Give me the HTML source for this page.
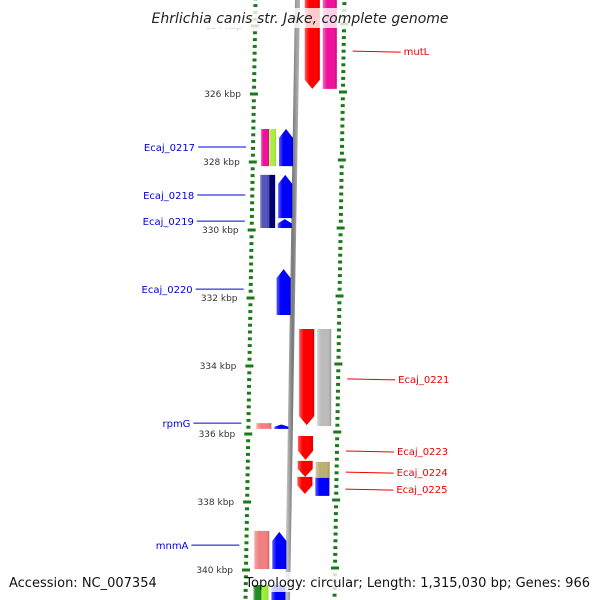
<!DOCTYPE html>
<html><head><meta charset="utf-8"><style>
html,body{margin:0;padding:0;background:#fff}
svg{display:block;font-family:"DejaVu Sans","Liberation Sans",sans-serif}
</style></head><body>
<svg id="map" width="600" height="600" viewBox="0 0 600 600" xmlns="http://www.w3.org/2000/svg">
<defs>
<linearGradient id="bb" x1="0" x2="1"><stop offset="0" stop-color="#bbb"/><stop offset="0.5" stop-color="#777"/><stop offset="1" stop-color="#aaa"/></linearGradient>
<linearGradient id="shine" x1="0" x2="1"><stop offset="0" stop-color="#fff" stop-opacity="0.35"/><stop offset="0.3" stop-color="#fff" stop-opacity="0"/><stop offset="0.8" stop-color="#000" stop-opacity="0"/><stop offset="1" stop-color="#000" stop-opacity="0.15"/></linearGradient>
</defs>
<g id="ticks"></g>
<line x1="297.5" y1="0" x2="287.5" y2="600" stroke="url(#bb)" stroke-width="5"/>
<g id="feats"></g>
<g id="labels"></g>
<rect x="150" y="8" width="300" height="20" fill="#fff" opacity="0.8"/>
<text x="300" y="23" text-anchor="middle" font-size="14" font-style="italic" fill="#222">Ehrlichia canis str. Jake, complete genome</text>
<text x="9" y="587" font-size="13" fill="#111">Accession: NC_007354</text>
<rect x="270" y="572" width="325" height="20" fill="#fff" opacity="0.8"/>
<text x="590" y="587" text-anchor="end" font-size="13" fill="#111">Topology: circular; Length: 1,315,030 bp; Genes: 966</text>
</svg>
<script>
const tickKbp=[324,326,328,330,332,334,336,338,340];
const tickLabels=["324 kbp","326 kbp","328 kbp","330 kbp","332 kbp","334 kbp","336 kbp","338 kbp","340 kbp"];
// features: start kbp, end kbp, lane offsets (inner,outer), colour, arrow ('up','down',null)
const featStart=[323.0,323.0,332.91,332.91,336.06,336.79,337.26,336.82,337.29,327.03,327.03,327.03,328.38,328.38,328.38,329.68,331.15,335.68,335.72,338.85,338.88,340.44,340.44,340.44];
const featEnd=[325.85,325.85,335.74,335.77,336.76,337.26,337.76,337.29,337.82,328.12,328.12,328.12,329.94,329.94,329.65,329.94,332.5,335.85,335.85,339.97,339.97,341.5,341.5,341.5];
const featLane=["R1","R2","R1","R2","R1","R1","R1","R2","R2","L2a","L2b","L1","L2a","L2b","L1","L1","L1","L2","L1","L2","L1","L2a","L2b","L1"];
const featColor=["#ff0000","#ee1199","#ff0000","#bbbbbb","#ff0000","#ff0000","#ff0000","#bbb070","#0000ff","#ee1199","#aaee44","#0000ff","#5555bb","#000077","#0000ff","#0000ff","#0000ff","#f08080","#0000ff","#f08080","#0000ff","#228b22","#99ee33","#0000ff"];
const featArrow=["down",null,"down",null,"down","down","down",null,null,null,null,"up",null,null,"up","up","up",null,"up",null,"up",null,null,null];
const labelText=["mutL","Ecaj_0221","Ecaj_0223","Ecaj_0224","Ecaj_0225","Ecaj_0217","Ecaj_0218","Ecaj_0219","Ecaj_0220","rpmG","mnmA"];
const labelKbp=[324.74,334.38,336.5,337.12,337.62,327.56,328.97,329.74,331.74,335.68,339.27];
const labelSide=["R","R","R","R","R","L","L","L","L","L","L"];

const NS="http://www.w3.org/2000/svg";
const yOf=k=>94+(k-326)*34;
const xb=y=>297.5-y*10/600;
const lanes={R1:[8,23],R2:[26,40],L1:[-16,-2],L2:[-34,-19],L2a:[-34,-26],L2b:[-26,-19]};
function mk(tag,attrs,parent){const e=document.createElementNS(NS,tag);for(const k in attrs)e.setAttribute(k,attrs[k]);parent.appendChild(e);return e;}

const tg=document.getElementById('ticks');
for(let k=322;k<=342.01;k+=0.2){
  const kk=Math.round(k*10)/10;
  const y=yOf(kk);
  if(y<-5||y>605)continue;
  const major=Math.abs(kk/2-Math.round(kk/2))<1e-6;
  const w=major?8:4;
  const xi=xb(y)-42, xo=xb(y)+47;
  const a=mk('rect',{x:xi-w/2,y:y-1.5,width:w,height:3,fill:'#1a7a1a'},tg);
  
  
  const b=mk('rect',{x:xo-w/2,y:y-3.5,width:w,height:3,fill:'#1a7a1a'},tg);
  
  
}
tickKbp.forEach((k,i)=>{
  const y=yOf(k);
  const t=mk('text',{x:xb(y)-55,y:y+3,'text-anchor':'end','font-size':'9',fill:k===324?'#ccc':'#333'},tg);
  t.textContent=tickLabels[i];
  
  
});

const fg=document.getElementById('feats');
featStart.forEach((s,i)=>{
  const y1=yOf(s), y2=yOf(featEnd[i]);
  const lo=lanes[featLane[i]];
  const ym=(y1+y2)/2, c=xb(ym);
  const x1=c+lo[0], x2=c+lo[1];
  const h=Math.min(9,(y2-y1)*0.5), xm=(x1+x2)/2;
  let d;
  if(featArrow[i]==='down') d=`M${x1},${y1}L${x2},${y1}L${x2},${y2-h}L${xm},${y2}L${x1},${y2-h}Z`;
  else if(featArrow[i]==='up') d=`M${x1},${y1+h}L${xm},${y1}L${x2},${y1+h}L${x2},${y2}L${x1},${y2}Z`;
  else d=`M${x1},${y1}L${x2},${y1}L${x2},${y2}L${x1},${y2}Z`;
  const p=mk('path',{d:d,fill:featColor[i]},fg);
  
  
  const q=mk('path',{d:d,fill:'url(#shine)'},fg);
  
  
});

const lg=document.getElementById('labels');
labelText.forEach((t,i)=>{
  const y=yOf(labelKbp[i]);
  const R=labelSide[i]==='R';
  const col=R?'#ee0000':'#0000dd';
  const xa=R?xb(y)+56:xb(y)-49, xe=R?xb(y)+104:xb(y)-97;
  const l=mk('line',{x1:xa,y1:y,x2:xe,y2:y+(R?1:0),stroke:col,'stroke-width':1},lg);
  
  
  const tx=mk('text',{x:R?xe+3:xe-3,y:y+4,'text-anchor':R?'start':'end','font-size':'10',fill:col},lg);
  tx.textContent=t;
  
  
});
</script>
</body></html>
